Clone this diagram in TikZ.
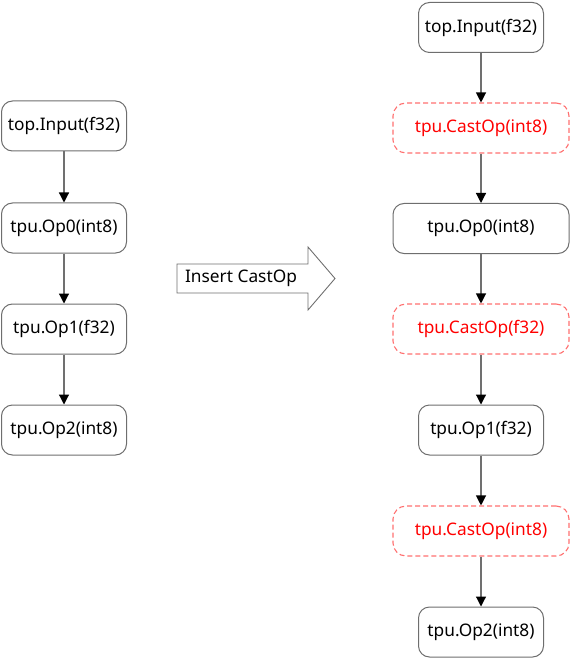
\documentclass[tikz,border=0pt]{standalone}
\usepackage{fontspec}
\setmainfont{Noto Sans}
\usetikzlibrary{arrows.meta}
\definecolor{boxline}{HTML}{6E6E6E}
\definecolor{castline}{HTML}{FF7070}
\definecolor{casttext}{HTML}{FF0000}
\definecolor{edgeline}{HTML}{707070}
\tikzset{
  lbl/.style={font=\fontsize{17.3}{20}\selectfont},
  opbox/.style={lbl, draw=boxline, line width=1pt, rounded corners=11pt, fill=white,
    inner sep=0pt, minimum height=50pt},
  castbox/.style={lbl, draw=castline, line width=1.1pt, dashed, dash pattern=on 5pt off 3pt,
    rounded corners=13pt, inner sep=0pt, minimum width=176pt, minimum height=50pt,
    text=casttext},
  edge/.style={draw=edgeline, line width=1.2pt, -{Triangle[width=10pt,length=10pt,fill=black,color=black]}}
}
\begin{document}
\begin{tikzpicture}[x=1pt,y=-1pt]
\useasboundingbox (0,0) rectangle (575,660);
% left column
\node[opbox, minimum width=125pt] (li) at (64,126) {top.Input(f32)};
\node[opbox, minimum width=125pt] (l0) at (64,228) {tpu.Op0(int8)};
\node[opbox, minimum width=125pt] (l1) at (64,329) {tpu.Op1(f32)};
\node[opbox, minimum width=125pt] (l2) at (64,430) {tpu.Op2(int8)};
\draw[edge] (li) -- (l0);
\draw[edge] (l0) -- (l1);
\draw[edge] (l1) -- (l2);
% big arrow
\draw[draw=boxline, line width=0.9pt, line join=miter]
  (177,264) -- (308,264) -- (308,247) -- (335,278.5) -- (308,310) -- (308,293) -- (177,293) -- cycle;
\node[lbl] (inst) at (241,278.5) {Insert CastOp};
% right column
\node[opbox, minimum width=125pt] (ri) at (481,27.5) {top.Input(f32)};
\node[castbox] (c1) at (481,128) {tpu.CastOp(int8)};
\node[opbox, minimum width=176pt] (r0) at (481,228.5) {tpu.Op0(int8)};
\node[castbox] (c2) at (481,329) {tpu.CastOp(f32)};
\node[opbox, minimum width=125pt] (r1) at (481,430) {tpu.Op1(f32)};
\node[castbox] (c3) at (481,531) {tpu.CastOp(int8)};
\node[opbox, minimum width=125pt] (r2) at (481,632) {tpu.Op2(int8)};
\draw[edge] (ri) -- (c1);
\draw[edge] (c1) -- (r0);
\draw[edge] (r0) -- (c2);
\draw[edge] (c2) -- (r1);
\draw[edge] (r1) -- (c3);
\draw[edge] (c3) -- (r2);
\end{tikzpicture}
\end{document}
